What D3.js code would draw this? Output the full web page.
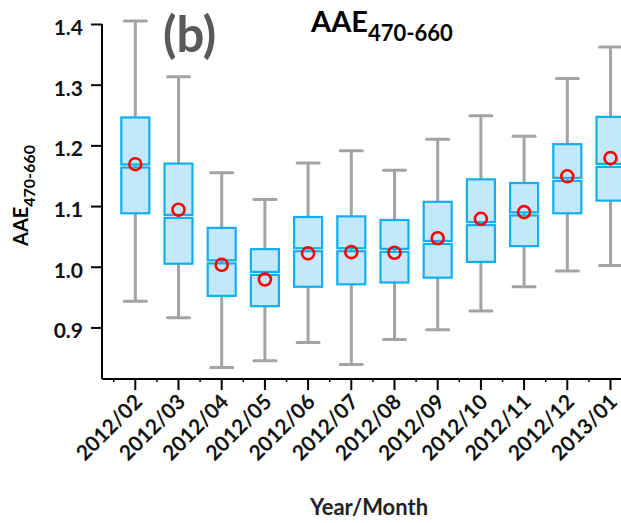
<!DOCTYPE html>
<html>
<head>
<meta charset="utf-8">
<script src="https://d3js.org/d3.v7.min.js"></script>
<style>
  body { margin: 0; background: #fff; }
  text { font-family: Lato, "Open Sans", sans-serif; font-weight: bold; }
</style>
</head>
<body>
<div id="graph"></div>
<script>

// data
var months   = ["2012/02","2012/03","2012/04","2012/05","2012/06","2012/07","2012/08","2012/09","2012/10","2012/11","2012/12","2013/01"];
var whiskLo  = [0.943, 0.916, 0.834, 0.845, 0.875, 0.839, 0.880, 0.896, 0.927, 0.967, 0.993, 1.002];
var q1       = [1.088, 1.005, 0.952, 0.935, 0.967, 0.971, 0.974, 0.982, 1.008, 1.034, 1.088, 1.109];
var medians  = [1.166, 1.083, 1.008, 0.989, 1.028, 1.028, 1.027, 1.040, 1.071, 1.087, 1.144, 1.167];
var q3       = [1.246, 1.170, 1.064, 1.029, 1.082, 1.083, 1.077, 1.107, 1.144, 1.138, 1.202, 1.247];
var whiskHi  = [1.405, 1.313, 1.155, 1.111, 1.171, 1.191, 1.159, 1.210, 1.249, 1.215, 1.310, 1.362];
var means    = [1.169, 1.094, 1.003, 0.979, 1.022, 1.024, 1.023, 1.047, 1.079, 1.090, 1.149, 1.179];
var yTicks   = [0.9, 1.0, 1.1, 1.2, 1.3, 1.4];

var data = months.map(function(m, i) {
  return {m: m, lo: whiskLo[i], q1: q1[i], med: medians[i], q3: q3[i], hi: whiskHi[i], mean: means[i]};
});

var W = 621, H = 523;
var svg = d3.select("#graph").append("svg")
  .attr("width", W).attr("height", H);

var left = 102, bottom = 379;

var y = d3.scaleLinear().domain([0.815, 1.4]).range([bottom, 24]);
var x = d3.scaleBand().domain(months).range([113.7, 632.1]);
function cx(d) { return x(d.m) + x.bandwidth() / 2; }

var boxW = 28, capW = 22, blue = "#12aef0";

// whiskers
var g = svg.append("g");
g.selectAll(".whisk").data(data).enter().append("line")
  .attr("x1", cx).attr("x2", cx)
  .attr("y1", function(d) { return y(d.lo); })
  .attr("y2", function(d) { return y(d.hi); })
  .attr("stroke", "#a3a3a3").attr("stroke-width", 3);

["lo", "hi"].forEach(function(k) {
  g.selectAll(".cap-" + k).data(data).enter().append("line")
    .attr("x1", function(d) { return cx(d) - capW / 2; })
    .attr("x2", function(d) { return cx(d) + capW / 2; })
    .attr("y1", function(d) { return y(d[k]); })
    .attr("y2", function(d) { return y(d[k]); })
    .attr("stroke", "#a3a3a3").attr("stroke-width", 3)
    .attr("stroke-linecap", "round");
});

// boxes: upper half (median..q3) and lower half (q1..median), drawn as two boxes
g.selectAll(".boxUp").data(data).enter().append("rect")
  .attr("x", function(d) { return cx(d) - boxW / 2; })
  .attr("y", function(d) { return y(d.q3); })
  .attr("width", boxW)
  .attr("height", function(d) { return y(d.med) - 1.5 - y(d.q3); })
  .attr("fill", "#c3e8fb")
  .attr("stroke", blue).attr("stroke-width", 2.2);

g.selectAll(".boxLo").data(data).enter().append("rect")
  .attr("x", function(d) { return cx(d) - boxW / 2; })
  .attr("y", function(d) { return y(d.med) + 1.5; })
  .attr("width", boxW)
  .attr("height", function(d) { return y(d.q1) - y(d.med) - 1.5; })
  .attr("fill", "#c3e8fb")
  .attr("stroke", blue).attr("stroke-width", 2.2);

// means
g.selectAll(".mean").data(data).enter().append("circle")
  .attr("cx", cx)
  .attr("cy", function(d) { return y(d.mean); })
  .attr("r", 6)
  .attr("fill", "none")
  .attr("stroke", "#ff0000").attr("stroke-width", 2.6);

// y axis
var yAxis = svg.append("g")
  .attr("transform", "translate(" + left + ",0)")
  .call(d3.axisLeft(y).tickValues(yTicks).tickFormat(d3.format(".1f")).tickSize(11).tickSizeOuter(0));
yAxis.select(".domain").attr("d", "M0," + y(1.4) + "V" + bottom).attr("stroke-width", 2);
yAxis.selectAll(".tick line").attr("stroke-width", 2);
yAxis.selectAll(".tick text")
  .attr("x", -19).attr("dy", "0.5em")
  .attr("font-size", "21px").attr("fill", "#111");

// x axis
var xAxis = svg.append("g")
  .attr("transform", "translate(0," + bottom + ")")
  .call(d3.axisBottom(x).tickSize(11).tickSizeOuter(0));
xAxis.select(".domain").attr("d", "M" + left + ",0H" + W).attr("stroke-width", 2);
xAxis.selectAll(".tick line").attr("stroke-width", 2);
xAxis.selectAll(".tick text")
  .attr("font-size", "21px").attr("fill", "#111")
  .attr("text-anchor", "end")
  .attr("transform", "translate(3,19) rotate(-45)")
  .attr("x", 0).attr("y", 0).attr("dy", "0.35em");

// minor ticks between categories
xAxis.selectAll(".minor").data(months.slice(1)).enter().append("line")
  .attr("x1", function(d) { return x(d); })
  .attr("x2", function(d) { return x(d); })
  .attr("y1", 0).attr("y2", 3)
  .attr("stroke", "#000").attr("stroke-width", 1.5);
xAxis.append("line")
  .attr("x1", x.range()[0]).attr("x2", x.range()[0])
  .attr("y1", 0).attr("y2", 3)
  .attr("stroke", "#000").attr("stroke-width", 1.5);

// panel label
svg.append("text")
  .attr("x", 163).attr("y", 52)
  .attr("font-size", "49px").attr("fill", "#595959")
  .text("(b)");

// title
var title = svg.append("text")
  .attr("x", 311).attr("y", 32)
  .attr("font-size", "29px").attr("fill", "#000");
title.append("tspan").text("AAE");
title.append("tspan").attr("font-size", "22px").attr("dy", 9).text("470-660");

// y axis title
var ylab = svg.append("text")
  .attr("transform", "translate(28,246) rotate(-90)")
  .attr("font-size", "20px").attr("fill", "#000");
ylab.append("tspan").text("AAE");
ylab.append("tspan").attr("font-size", "16px").attr("dy", 7).text("470-660");

// x axis title
svg.append("text")
  .attr("x", 369).attr("y", 515)
  .attr("text-anchor", "middle")
  .attr("font-size", "22px").attr("fill", "#222")
  .text("Year/Month");

</script>
</body>
</html>
